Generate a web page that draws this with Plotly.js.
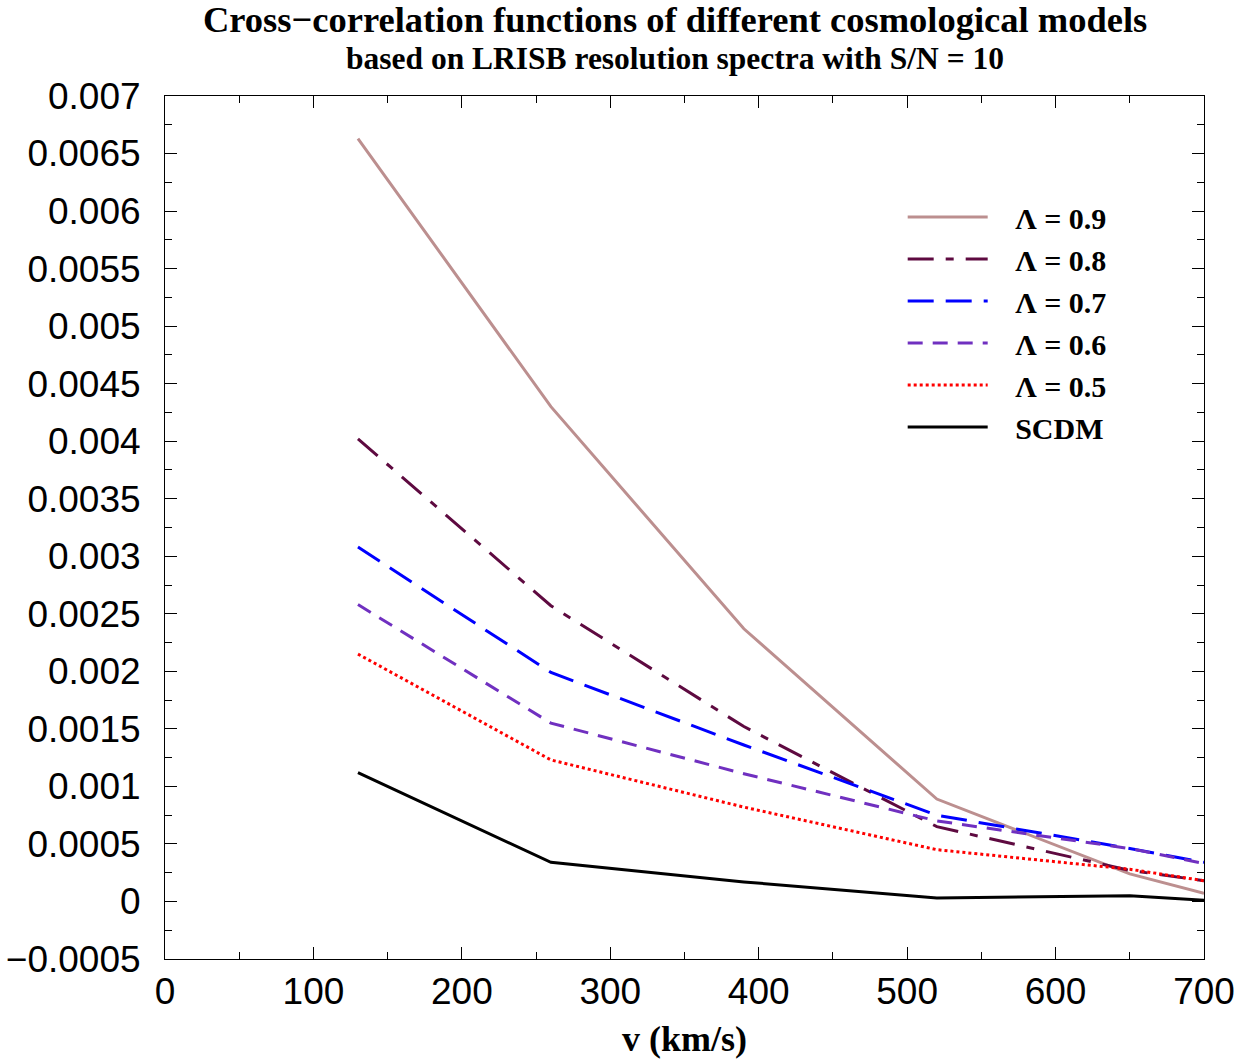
<!DOCTYPE html>
<html>
<head>
<meta charset="utf-8">
<script src="https://cdn.plot.ly/plotly-3.0.1.min.js"></script>
<style>html,body{margin:0;padding:0;background:#fff;}#chart{width:1254px;height:1064px;}</style>
</head>
<body>
<div id="chart"></div>
<script>
// Velocity separations (km/s)
var v = [130, 260, 390, 520, 650, 700];
// Cross-correlation values per model
var lam09 = [0.00663, 0.00430, 0.00237, 0.00089, 0.00024, 0.00007];
var lam08 = [0.00402, 0.00257, 0.00152, 0.00065, 0.00027, 0.00018];
var lam07 = [0.00308, 0.00199, 0.00136, 0.00075, 0.00046, 0.00034];
var lam06 = [0.00258, 0.00155, 0.00111, 0.00070, 0.00046, 0.00033];
var lam05 = [0.00215, 0.00123, 0.00082, 0.00045, 0.00028, 0.00018];
var scdm  = [0.00112, 0.00034, 0.00017, 0.00003, 0.00005, 0.00001];
var names = ["Λ = 0.9", "Λ = 0.8", "Λ = 0.7", "Λ = 0.6", "Λ = 0.5", "SCDM"];

var series = [lam09, lam08, lam07, lam06, lam05, scdm];
var styles = [
  {color: "#bc8f8f", width: 3, dash: "solid"},
  {color: "#5e0a40", width: 3, dash: "26px,12px,8px,12px"},
  {color: "#0000ff", width: 3, dash: "26px,12px"},
  {color: "#7030c0", width: 3, dash: "15px,10px"},
  {color: "#ff0000", width: 3, dash: "3px,3px"},
  {color: "#000000", width: 3, dash: "solid"}
];
var pad = "\u00a0\u00a0\u00a0";
var traces = series.map(function (s, i) {
  return {x: v, y: s, name: pad + names[i], type: "scatter", mode: "lines", line: styles[i]};
});

var tickFont = {family: "Liberation Sans, Arial, sans-serif", size: 37, color: "#000"};
var serif = "Liberation Serif, Times New Roman, serif";

var layout = {
  width: 1254, height: 1064,
  margin: {l: 165, r: 50, t: 96, b: 105},
  paper_bgcolor: "#fff", plot_bgcolor: "#fff",
  title: {
    text: "Cross\u2212correlation functions of different cosmological models",
    font: {family: serif, size: 36.5, weight: "bold", color: "#000"},
    x: 0.491, xref: "paper", xanchor: "center",
    y: 0.982, yref: "container", yanchor: "middle"
  },
  annotations: [{
    text: "based on LRISB resolution spectra with S/N = 10",
    font: {family: serif, size: 31.5, weight: "bold", color: "#000"},
    xref: "paper", yref: "paper", x: 0.491, y: 1.0429,
    xanchor: "center", yanchor: "middle", showarrow: false
  }],
  xaxis: {
    range: [0, 700], dtick: 100, tick0: 0,
    ticks: "inside", ticklen: 12, tickwidth: 1, tickcolor: "#000",
    minor: {dtick: 50, ticks: "inside", ticklen: 7, tickcolor: "#000"},
    showline: true, linecolor: "#000", linewidth: 1, mirror: "ticks",
    showgrid: false, zeroline: false,
    tickfont: tickFont,
    title: {text: "v (km/s)", font: {family: serif, size: 36, weight: "bold", color: "#000"}, standoff: 14}
  },
  yaxis: {
    range: [-0.0005, 0.007], dtick: 0.0005, tick0: 0,
    ticks: "inside", ticklen: 12, tickwidth: 1, tickcolor: "#000",
    minor: {dtick: 0.00025, ticks: "inside", ticklen: 7, tickcolor: "#000"},
    showline: true, linecolor: "#000", linewidth: 1, mirror: "ticks",
    showgrid: false, zeroline: false, exponentformat: "none",
    ticklabelstandoff: 16,
    tickfont: tickFont
  },
  showlegend: true,
  legend: {
    x: 0.71, y: 0.89, xanchor: "left", yanchor: "top",
    bgcolor: "rgba(0,0,0,0)", borderwidth: 0,
    itemwidth: 80,
    font: {family: serif, size: 30, weight: "bold", color: "#000"}
  }
};

Plotly.newPlot("chart", traces, layout, {displayModeBar: false, staticPlot: true});
</script>
</body>
</html>
